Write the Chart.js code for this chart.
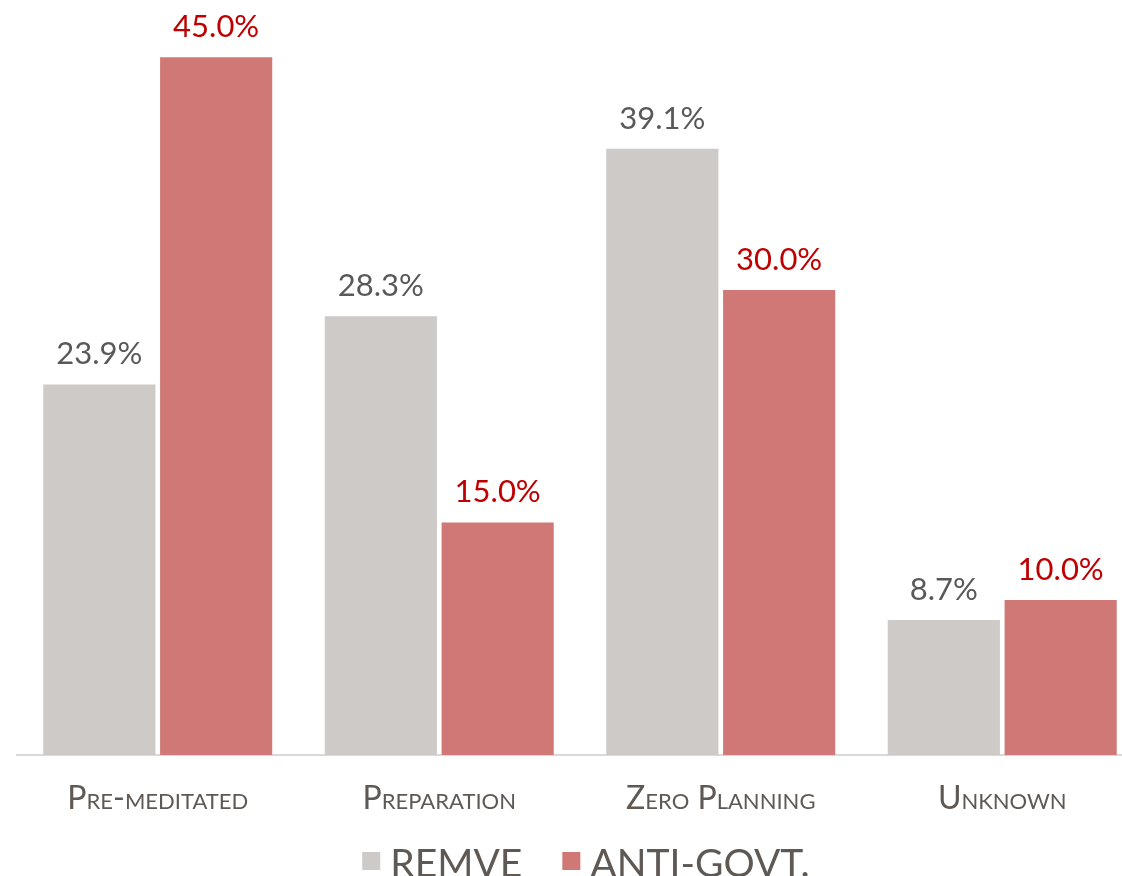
<!DOCTYPE html>
<html>
<head>
<meta charset="utf-8">
<script src="https://cdn.jsdelivr.net/npm/chart.js@4.4.1/dist/chart.umd.min.js"></script>
<style>
  html, body { margin: 0; padding: 0; background: #fff; overflow: hidden; }
  #wrap { width: 1145px; height: 876px; position: relative; }
</style>
</head>
<body>
<div id="wrap"><canvas id="planChart"></canvas></div>
<script>
// chart data
const categories = ['Pre-meditated', 'Preparation', 'Zero Planning', 'Unknown'];
const remveValues = [23.9, 28.3, 39.1, 8.7];
const antiGovtValues = [45.0, 15.0, 30.0, 10.0];
const seriesNames = ['REMVE', 'ANTI-GOVT.'];

const barColors = ['#cdcac7', '#d07876'];
const labelColors = ['#595959', '#c00000'];
const textColor = '#5f5955';

// value labels above each bar
const valueLabels = {
    id: 'valueLabels',
    afterDatasetsDraw(chart) {
        const ctx = chart.ctx;
        ctx.save();
        ctx.font = '31px Lato';
        ctx.textAlign = 'center';
        ctx.textBaseline = 'alphabetic';
        chart.data.datasets.forEach((ds, i) => {
            const meta = chart.getDatasetMeta(i);
            ctx.fillStyle = labelColors[i];
            meta.data.forEach((bar, j) => {
                ctx.fillText(ds.data[j].toFixed(1) + '%', bar.x, bar.y - 20);
            });
        });
        ctx.restore();
    }
};

// legend drawn under the axis labels
const bottomLegend = {
    id: 'bottomLegend',
    afterDraw(chart) {
        const ctx = chart.ctx;
        const box = 18, gap = 10, spacing = 40;
        ctx.save();
        ctx.font = '39px Lato';
        ctx.textBaseline = 'alphabetic';
        const items = chart.data.datasets.map(ds => ({ text: ds.label, color: ds.backgroundColor, w: ctx.measureText(ds.label).width }));
        const total = items.reduce((s, it) => s + box + gap + it.w, 0) + spacing * (items.length - 1);
        let x = 586 - total / 2;
        items.forEach(it => {
            ctx.fillStyle = it.color;
            ctx.fillRect(x, 852, box, box);
            ctx.fillStyle = textColor;
            ctx.fillText(it.text, x + box + gap, 877);
            x += box + gap + it.w + spacing;
        });
        ctx.restore();
    }
};

new Chart(document.getElementById('planChart').getContext('2d'), {
    type: 'bar',
    data: {
        labels: categories,
        datasets: [
            { label: seriesNames[0], data: remveValues, backgroundColor: barColors[0] },
            { label: seriesNames[1], data: antiGovtValues, backgroundColor: barColors[1] }
        ]
    },
    options: {
        responsive: true,
        maintainAspectRatio: false,
        animation: false,
        categoryPercentage: 0.83,
        barPercentage: 0.96,
        layout: { padding: { left: 17, right: 2, top: 0, bottom: 0 } },
        plugins: {
            legend: { display: false },
            tooltip: { enabled: false }
        },
        scales: {
            y: {
                display: false,
                min: 0,
                max: 48.7
            },
            x: {
                afterFit(scale) { scale.height = 121; },
                grid: { display: false, drawTicks: false },
                border: { display: true, color: '#d9d9d9', width: 2 },
                ticks: {
                    color: textColor,
                    padding: 24,
                    font: { family: 'Lato', size: 32, weight: 'small-caps' }
                }
            }
        }
    },
    plugins: [valueLabels, bottomLegend]
});
</script>
</body>
</html>
